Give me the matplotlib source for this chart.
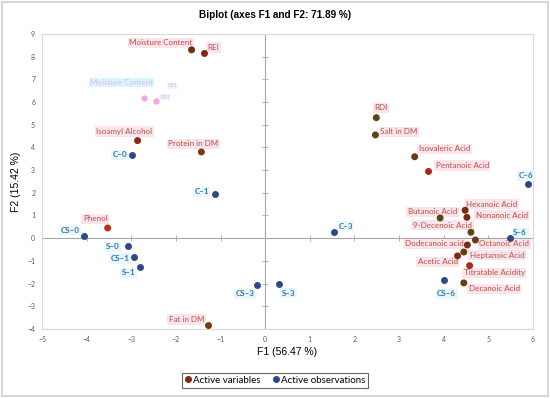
import numpy as np
import matplotlib.pyplot as plt
from matplotlib.lines import Line2D
from matplotlib.patches import Rectangle

plt.rcParams['font.family'] = ['Lato', 'DejaVu Sans']

# active variables (F1, F2)
var_names = ['Moisture Content', 'REI', 'Isoamyl Alcohol', 'Protein in DM', 'Phenol',
             'Fat in DM', 'RDI', 'Salt in DM', 'Isovaleric Acid', 'Pentanoic Acid',
             'Hexanoic Acid', 'Butanoic Acid', 'Nonanoic Acid', '9-Decenoic Acid',
             'Octanoic Acid', 'Dodecanoic acid', 'Heptanoic Acid', 'Acetic Acid',
             'Titratable Acidity', 'Decanoic Acid']
var_f1 = [-1.65, -1.36, -2.86, -1.43, -3.53, -1.27, 2.49, 2.47, 3.35, 3.66,
          4.48, 3.92, 4.52, 4.61, 4.71, 4.53, 4.45, 4.31, 4.58, 4.45]
var_f2 = [8.30, 8.14, 4.30, 3.80, 0.45, -3.85, 5.31, 4.55, 3.59, 2.94,
          1.23, 0.89, 0.92, 0.26, -0.08, -0.30, -0.61, -0.78, -1.21, -1.97]

# active observations (F1, F2)
obs_names = ['C\u20130', 'C\u20131', 'CS\u20130', 'S\u20130', 'CS\u20131', 'S\u20131', 'CS\u20133',
             'S\u20133', 'C\u20133', 'C\u20136', 'S\u20136', 'CS\u20136']
obs_f1 = [-2.98, -1.13, -4.07, -3.07, -2.95, -2.80, -0.19, 0.30, 1.55, 5.89, 5.49, 4.00]
obs_f2 = [3.68, 1.96, 0.08, -0.33, -0.81, -1.26, -2.06, -2.02, 0.26, 2.37, 0.01, -1.84]

# faded leftover copy of two labels in the original
ghost_f1 = [-2.72, -2.44]
ghost_f2 = [6.19, 6.04]

xticks = list(range(-5, 7))
yticks = list(range(-4, 10))

# label placement (dx, dy in pixels, alignment)
var_pos = [(1, 7, 'right'), (3, 6, 'left'), (15, 9, 'right'), (17, 8, 'right'), (0, 9, 'right'),
           (-4, 6, 'right'), (-2, 10, 'left'), (5, 3, 'left'), (4, 8, 'left'), (7, 6, 'left'),
           (1, 6, 'left'), (17, 6, 'right'), (9, 2, 'left'), (1, 7, 'right'),
           (4, -4, 'left'), (-4, 1, 'right'), (6, -3, 'left'), (0, -6, 'right'),
           (-6, -7, 'left'), (5, -6, 'left')]
obs_pos = [(-5, 0, 'right'), (-6, 2, 'right'), (-4, 6, 'right'), (-9, -1, 'right'),
           (-4, -2, 'right'), (-5, -6, 'right'), (-2, -9, 'right'), (3, -9, 'left'),
           (4, 6, 'left'), (5, 9, 'right'), (3, 5, 'left'), (3, -14, 'center')]
var_colors = ['#6B2E12', '#7A2A10', '#8B2A14', '#7A3A10', '#B8321E', '#7A3A10', '#5C4514',
              '#5C4514', '#6B3A14', '#A8281C', '#7A2A10', '#5C4514', '#7A2A10', '#6B4014',
              '#6B3A14', '#7A2A10', '#6B3A14', '#8B2A14', '#A8281C', '#6B3A14']
obs_color = '#2E4A86'
var_text = '#B5533C'
obs_text = '#3573B0'

fig = plt.figure(figsize=(5.5, 3.98), dpi=100)
fig.patches.append(Rectangle((0.004, 0.004), 0.992, 0.99, transform=fig.transFigure,
                             fill=False, ec='#D0D0D0', lw=1.2))
ax = fig.add_axes([0.0765, 0.1735, 0.8925, 0.7412])

ax.set_xlim(-5, 6)
ax.set_ylim(-4, 9)
ax.set_xticks(xticks)
ax.set_yticks(yticks)
ax.tick_params(length=0, labelsize=5, labelcolor='#595959', pad=5)
for s in ax.spines.values():
    s.set_color('#D9D9D9')
    s.set_linewidth(0.8)

ax.axhline(0, color='#A6A6A6', lw=0.8, zorder=1)
ax.axvline(0, color='#A6A6A6', lw=0.8, zorder=1)
ax.plot(np.zeros(len(yticks)), yticks, ls='none', marker='_', ms=4, color='#A6A6A6', mew=0.6)
ax.plot(xticks, np.zeros(len(xticks)), ls='none', marker='|', ms=4, color='#A6A6A6', mew=0.6)

# ghost artefacts
ax.scatter(ghost_f1, ghost_f2, s=12, color='#F7A6E4', zorder=2)
ax.annotate('Moisture Content', (ghost_f1[0], ghost_f2[0]), textcoords='offset pixels',
            xytext=(9, 15), ha='right', va='center', fontsize=5.8, color='#F0B0E6',
            bbox=dict(boxstyle='square,pad=0.1', fc='#D4FAFD', ec='none'))
ax.annotate('REI', (ghost_f1[0], ghost_f2[0]), textcoords='offset pixels',
            xytext=(24, 12), ha='left', va='center', fontsize=4.5, color='#F0B0E6',
            bbox=dict(boxstyle='square,pad=0.1', fc='#E4FBFD', ec='none'))
ax.annotate('REI', (ghost_f1[1], ghost_f2[1]), textcoords='offset pixels',
            xytext=(4, 4), ha='left', va='center', fontsize=4.5, color='#F0B0E6',
            bbox=dict(boxstyle='square,pad=0.1', fc='#E4FBFD', ec='none'))

ax.scatter(var_f1, var_f2, s=16, color=var_colors, zorder=4)
ax.scatter(obs_f1, obs_f2, s=16, color=obs_color, zorder=4)

for name, x, y, (dx, dy, ha) in zip(var_names, var_f1, var_f2, var_pos):
    ax.annotate(name, (x, y), textcoords='offset pixels', xytext=(dx, dy), ha=ha, va='center',
                fontsize=5.8, color=var_text, zorder=3,
                bbox=dict(boxstyle='square,pad=0.2', fc='#FCE4EE', ec='none'))
for name, x, y, (dx, dy, ha) in zip(obs_names, obs_f1, obs_f2, obs_pos):
    ax.annotate(name, (x, y), textcoords='offset pixels', xytext=(dx, dy), ha=ha, va='center',
                fontsize=5.8, color=obs_text, fontweight='bold', zorder=3,
                bbox=dict(boxstyle='square,pad=0.2', fc='#E8F8FA', ec='none'))

ax.set_xlabel('F1 (56.47 %)', fontsize=7.5, family='Liberation Sans', labelpad=3)
ax.set_ylabel('F2 (15.42 %)', fontsize=7.5, family='Liberation Sans', labelpad=4)
fig.suptitle('Biplot (axes F1 and F2: 71.89 %)', fontsize=7.2, fontweight='bold',
             family='Liberation Sans', x=0.5, y=0.975)

handles = [Line2D([], [], ls='none', marker='o', ms=4, color='#7A2A10'),
           Line2D([], [], ls='none', marker='o', ms=4, color=obs_color)]
leg = fig.legend(handles, ['Active variables', 'Active observations'], loc='center',
                 bbox_to_anchor=(0.5, 0.045), ncol=2, fontsize=7, frameon=True, fancybox=False,
                 handletextpad=0.1, handlelength=0.8, columnspacing=1.2, borderpad=0.3)
leg.get_frame().set_edgecolor('#404040')
leg.get_frame().set_linewidth(0.8)

fig.savefig('out.png', dpi=100)
